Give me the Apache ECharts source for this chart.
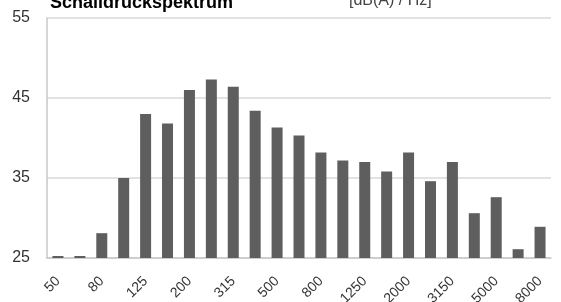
<!DOCTYPE html>
<html>
<head>
<meta charset="utf-8">
<script src="https://cdn.jsdelivr.net/npm/echarts@6/dist/echarts.min.js"></script>
<style>
  html, body { margin: 0; padding: 0; background: #fff; }
  #chart { width: 561px; height: 302px; }
</style>
</head>
<body>
<div id="chart"></div>
<script>
// third-octave band centre frequencies (Hz)
const bands = ['50', '63', '80', '100', '125', '160', '200', '250', '315', '400', '500', '630',
  '800', '1000', '1250', '1600', '2000', '2500', '3150', '4000', '5000', '6300', '8000'];
// sound pressure level per band, dB(A)
const levels = [25.25, 25.25, 28.1, 35.0, 43.0, 41.8, 46.0, 47.3, 46.4, 43.4, 41.3, 40.3,
  38.2, 37.2, 37.0, 35.8, 38.2, 34.6, 37.0, 30.6, 32.6, 26.1, 28.9];
const yTicks = [25, 35, 45, 55];

const chart = echarts.init(document.getElementById('chart'));

const option = {
  animation: false,
  title: [
    {
      text: 'Schalldruckspektrum',
      left: 45,
      top: -11,
      textStyle: { fontFamily: 'Liberation Sans', fontSize: 18, fontWeight: 'bold', color: '#000' }
    },
    {
      text: '[dB(A) / Hz]',
      left: 344,
      top: -12,
      textStyle: { fontFamily: 'Liberation Sans', fontSize: 16, fontWeight: 'normal', color: '#444' }
    }
  ],
  grid: { left: 47, right: 10, top: 18, bottom: 44, outerBoundsMode: 'none', containLabel: false },
  xAxis: {
    type: 'category',
    data: bands,
    axisLine: { lineStyle: { color: '#c8c8c8', width: 1.5 } },
    axisTick: { show: false },
    axisLabel: {
      interval: 1,
      rotate: 45,
      margin: 21,
      fontFamily: 'Liberation Sans',
      fontSize: 14,
      color: '#333'
    }
  },
  yAxis: {
    type: 'value',
    min: yTicks[0],
    max: yTicks[yTicks.length - 1],
    interval: 10,
    axisLine: { show: true, lineStyle: { color: '#c8c8c8', width: 1.5 } },
    axisTick: { show: false },
    splitLine: { lineStyle: { color: '#d9d9d9', width: 1.5 } },
    axisLabel: {
      margin: 17,
      fontFamily: 'Liberation Sans',
      fontSize: 16,
      color: '#333'
    }
  },
  series: [{
    type: 'bar',
    data: levels,
    barWidth: 11,
    itemStyle: { color: '#5e5e5e' }
  }]
};

chart.setOption(option);
</script>
</body>
</html>
